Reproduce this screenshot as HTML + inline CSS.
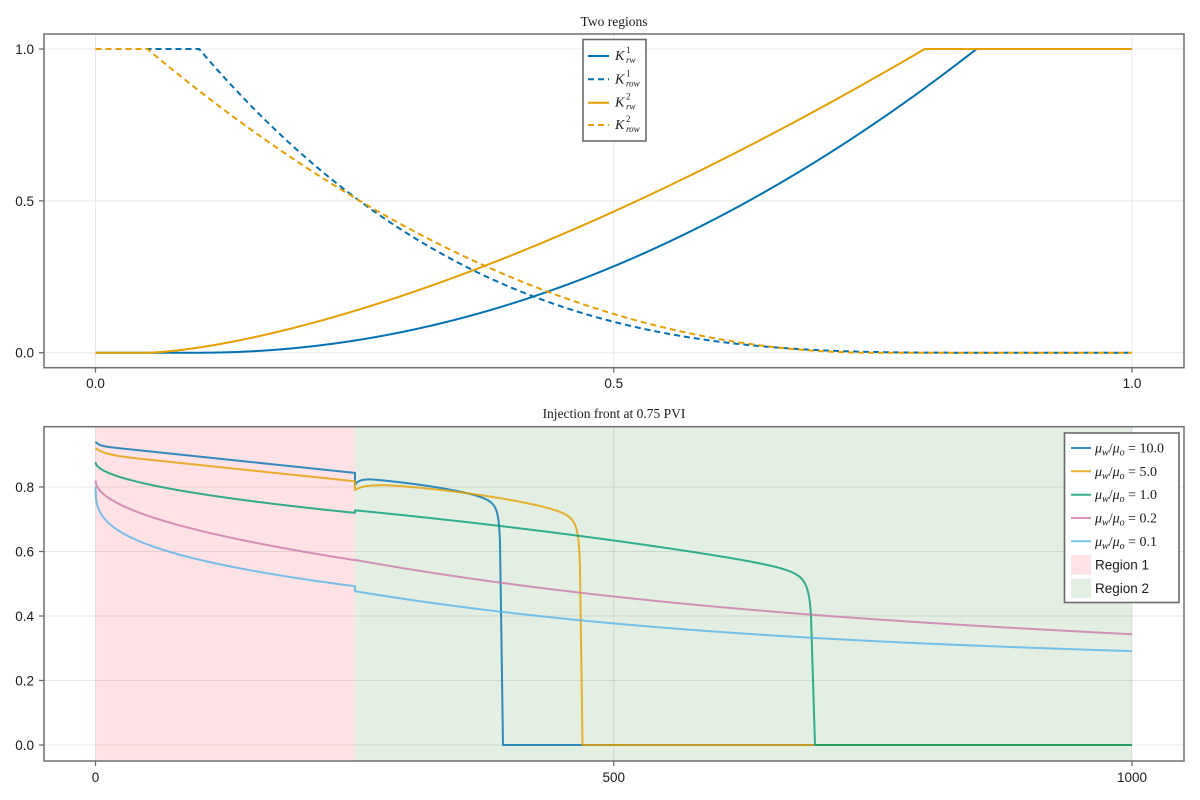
<!DOCTYPE html>
<html>
<head>
<meta charset="utf-8">
<style>
  html, body { margin:0; padding:0; background:#ffffff; }
  svg { display:block; }
  .tick { font-family:"Liberation Sans", sans-serif; font-size:13.5px; fill:#1a1a1a; }
  .title { font-family:"Liberation Serif", serif; font-size:13.5px; fill:#1a1a1a; }
  .math { font-family:"Liberation Serif", serif; font-size:14px; fill:#1a1a1a; }
  .leg { font-family:"Liberation Sans", sans-serif; font-size:13.5px; fill:#1a1a1a; }
</style>
</head>
<body>
<svg id="chart" width="1200" height="800" viewBox="0 0 1200 800" xmlns="http://www.w3.org/2000/svg">
  <rect x="0" y="0" width="1200" height="800" fill="#ffffff"/>
  <defs>
    <clipPath id="clipTop"><rect x="44" y="34" width="1140" height="333.7"/></clipPath>
    <clipPath id="clipBot"><rect x="44" y="426.7" width="1140" height="334.3"/></clipPath>
  </defs>

  <!-- ===== TOP PANEL ===== -->
  <text class="title" x="614" y="26" text-anchor="middle">Two regions</text>
  <g stroke="#e8e8e8" stroke-width="1">
    <line x1="95.5" y1="34" x2="95.5" y2="367.7"/>
    <line x1="613.75" y1="34" x2="613.75" y2="367.7"/>
    <line x1="1132" y1="34" x2="1132" y2="367.7"/>
    <line x1="44" y1="49" x2="1184" y2="49"/>
    <line x1="44" y1="200.85" x2="1184" y2="200.85"/>
    <line x1="44" y1="352.7" x2="1184" y2="352.7"/>
  </g>
  <g id="topCurves" clip-path="url(#clipTop)" fill="none" stroke-width="2"></g>
  <rect x="44" y="34" width="1140" height="333.7" fill="none" stroke="#6f6f6f" stroke-width="1.5"/>
  <g stroke="#6f6f6f" stroke-width="1.3">
    <line x1="39" y1="49" x2="44" y2="49"/>
    <line x1="39" y1="200.85" x2="44" y2="200.85"/>
    <line x1="39" y1="352.7" x2="44" y2="352.7"/>
    <line x1="95.5" y1="367.7" x2="95.5" y2="372.7"/>
    <line x1="613.75" y1="367.7" x2="613.75" y2="372.7"/>
    <line x1="1132" y1="367.7" x2="1132" y2="372.7"/>
  </g>
  <text class="tick" x="34" y="54" text-anchor="end">1.0</text>
  <text class="tick" x="34" y="205.8" text-anchor="end">0.5</text>
  <text class="tick" x="34" y="357.7" text-anchor="end">0.0</text>
  <text class="tick" x="95.5" y="388" text-anchor="middle">0.0</text>
  <text class="tick" x="613.75" y="388" text-anchor="middle">0.5</text>
  <text class="tick" x="1132" y="388" text-anchor="middle">1.0</text>

  <!-- top legend -->
  <rect x="583" y="39.5" width="63" height="101.5" fill="#ffffff" stroke="#6a6a6a" stroke-width="1.6"/>
  <line x1="588" y1="56" x2="609" y2="56" stroke="#0072B2" stroke-width="2"/>
  <line x1="588" y1="79.3" x2="609" y2="79.3" stroke="#0072B2" stroke-width="2" stroke-dasharray="6 4"/>
  <line x1="588" y1="102.7" x2="609" y2="102.7" stroke="#E69F00" stroke-width="2"/>
  <line x1="588" y1="125" x2="609" y2="125" stroke="#E69F00" stroke-width="2" stroke-dasharray="6 4"/>
  <g class="math">
    <text x="615" y="60" font-style="italic">K</text>
    <text x="626" y="53" font-size="9">1</text>
    <text x="626" y="63" font-size="9" font-style="italic">rw</text>

    <text x="615" y="83.3" font-style="italic">K</text>
    <text x="626" y="76.3" font-size="9">1</text>
    <text x="626" y="86.3" font-size="9" font-style="italic">row</text>

    <text x="615" y="106.7" font-style="italic">K</text>
    <text x="626" y="99.7" font-size="9">2</text>
    <text x="626" y="109.7" font-size="9" font-style="italic">rw</text>

    <text x="615" y="129" font-style="italic">K</text>
    <text x="626" y="122" font-size="9">2</text>
    <text x="626" y="132" font-size="9" font-style="italic">row</text>
  </g>

  <!-- ===== BOTTOM PANEL ===== -->
  <text class="title" x="614" y="418" text-anchor="middle">Injection front at 0.75 PVI</text>
  <rect x="95.5" y="426.7" width="259.5" height="334.3" fill="#ffe2e5"/>
  <rect x="355" y="426.7" width="777" height="334.3" fill="#e3efe3"/>
  <g stroke="rgba(0,0,0,0.09)" stroke-width="1">
    <line x1="95.5" y1="426.7" x2="95.5" y2="761"/>
    <line x1="613.75" y1="426.7" x2="613.75" y2="761"/>
    <line x1="1132" y1="426.7" x2="1132" y2="761"/>
    <line x1="44" y1="487" x2="1184" y2="487"/>
    <line x1="44" y1="551.5" x2="1184" y2="551.5"/>
    <line x1="44" y1="616" x2="1184" y2="616"/>
    <line x1="44" y1="680.5" x2="1184" y2="680.5"/>
    <line x1="44" y1="745" x2="1184" y2="745"/>
  </g>
  <g id="botCurves" clip-path="url(#clipBot)" fill="none" stroke-width="2" stroke-linejoin="round"></g>
  <rect x="44" y="426.7" width="1140" height="334.3" fill="none" stroke="#6f6f6f" stroke-width="1.5"/>
  <g stroke="#6f6f6f" stroke-width="1.3">
    <line x1="39" y1="487" x2="44" y2="487"/>
    <line x1="39" y1="551.5" x2="44" y2="551.5"/>
    <line x1="39" y1="616" x2="44" y2="616"/>
    <line x1="39" y1="680.5" x2="44" y2="680.5"/>
    <line x1="39" y1="745" x2="44" y2="745"/>
    <line x1="95.5" y1="761" x2="95.5" y2="766"/>
    <line x1="613.75" y1="761" x2="613.75" y2="766"/>
    <line x1="1132" y1="761" x2="1132" y2="766"/>
  </g>
  <text class="tick" x="34" y="492" text-anchor="end">0.8</text>
  <text class="tick" x="34" y="556.5" text-anchor="end">0.6</text>
  <text class="tick" x="34" y="621" text-anchor="end">0.4</text>
  <text class="tick" x="34" y="685.5" text-anchor="end">0.2</text>
  <text class="tick" x="34" y="750" text-anchor="end">0.0</text>
  <text class="tick" x="95.5" y="782" text-anchor="middle">0</text>
  <text class="tick" x="613.75" y="782" text-anchor="middle">500</text>
  <text class="tick" x="1132" y="782" text-anchor="middle">1000</text>

  <!-- bottom legend -->
  <rect x="1064.5" y="433" width="114.5" height="169.5" fill="#ffffff" stroke="#6a6a6a" stroke-width="1.6"/>
  <g stroke-width="2" stroke-opacity="0.8">
    <line x1="1071" y1="448" x2="1091" y2="448" stroke="#0072B2"/>
    <line x1="1071" y1="471.3" x2="1091" y2="471.3" stroke="#E69F00"/>
    <line x1="1071" y1="494.7" x2="1091" y2="494.7" stroke="#009E73"/>
    <line x1="1071" y1="518" x2="1091" y2="518" stroke="#CC79A7"/>
    <line x1="1071" y1="541.3" x2="1091" y2="541.3" stroke="#56B4E9"/>
  </g>
  <rect x="1071" y="555" width="20" height="19.5" fill="#ffe2e5"/>
  <rect x="1071" y="578.5" width="20" height="19.5" fill="#e3efe3"/>
  <g class="math">
    <text x="1095" y="452.5"><tspan font-style="italic">μ</tspan><tspan font-style="italic" font-size="10" dy="3">w</tspan><tspan dy="-3">/</tspan><tspan font-style="italic">μ</tspan><tspan font-style="italic" font-size="10" dy="3">o</tspan><tspan dy="-3"> = 10.0</tspan></text>
    <text x="1095" y="475.8"><tspan font-style="italic">μ</tspan><tspan font-style="italic" font-size="10" dy="3">w</tspan><tspan dy="-3">/</tspan><tspan font-style="italic">μ</tspan><tspan font-style="italic" font-size="10" dy="3">o</tspan><tspan dy="-3"> = 5.0</tspan></text>
    <text x="1095" y="499.2"><tspan font-style="italic">μ</tspan><tspan font-style="italic" font-size="10" dy="3">w</tspan><tspan dy="-3">/</tspan><tspan font-style="italic">μ</tspan><tspan font-style="italic" font-size="10" dy="3">o</tspan><tspan dy="-3"> = 1.0</tspan></text>
    <text x="1095" y="522.5"><tspan font-style="italic">μ</tspan><tspan font-style="italic" font-size="10" dy="3">w</tspan><tspan dy="-3">/</tspan><tspan font-style="italic">μ</tspan><tspan font-style="italic" font-size="10" dy="3">o</tspan><tspan dy="-3"> = 0.2</tspan></text>
    <text x="1095" y="545.8"><tspan font-style="italic">μ</tspan><tspan font-style="italic" font-size="10" dy="3">w</tspan><tspan dy="-3">/</tspan><tspan font-style="italic">μ</tspan><tspan font-style="italic" font-size="10" dy="3">o</tspan><tspan dy="-3"> = 0.1</tspan></text>
  </g>
  <text class="leg" x="1095" y="569.5">Region 1</text>
  <text class="leg" x="1095" y="593">Region 2</text>
</svg>

<script>
(function(){
  var NS = "http://www.w3.org/2000/svg";
  function mk(parent, d, stroke, extra){
    var p = document.createElementNS(NS, "path");
    p.setAttribute("d", d);
    p.setAttribute("stroke", stroke);
    p.setAttribute("fill", "none");
    if (extra) for (var k in extra) p.setAttribute(k, extra[k]);
    parent.appendChild(p);
  }
  function toD(pts){
    var s = "";
    for (var i=0;i<pts.length;i++){
      s += (i===0?"M":"L") + pts[i][0].toFixed(2) + "," + pts[i][1].toFixed(2);
    }
    return s;
  }

  // ---------- top panel ----------
  var top = document.getElementById("topCurves");
  function sx(s){ return 95.5 + s*1036.5; }
  function ky(k){ return 352.7 - k*303.7; }
  function krw1(s){ if (s<=0.1) return 0; if (s>=0.85) return 1; return Math.pow((s-0.1)/0.75, 2); }
  function krow1(s){ if (s<=0.1) return 1; if (s>=0.85) return 0; return Math.pow((0.85-s)/0.75, 3); }
  function krw2(s){ if (s<=0.05) return 0; if (s>=0.8) return 1; return Math.pow((s-0.05)/0.75, 1.5); }
  function krow2(s){ if (s<=0.05) return 1; if (s>=0.75) return 0; return Math.pow((0.75-s)/0.7, 2); }
  function tp(f){
    var pts=[];
    for (var i=0;i<=2000;i++){ var s=i/2000; pts.push([sx(s), ky(f(s))]); }
    return toD(pts);
  }
  mk(top, tp(krw1), "#0072B2");
  mk(top, tp(krow1), "#0072B2", {"stroke-dasharray":"6 4"});
  mk(top, tp(krw2), "#E69F00");
  mk(top, tp(krow2), "#E69F00", {"stroke-dasharray":"6 4"});

  // ---------- bottom panel ----------
  var bot = document.getElementById("botCurves");
  var X0=95.5, XB=355, XE=1132;
  function Y(v){ return 745 - 322.5*v; }
  function curve(r1, r2, xf, c, e, ramp){
    var pts=[], i, x, v;
    var n1 = Math.round((XB-X0)/0.5);
    for (i=0;i<=n1;i++){ x = X0 + i*0.5; pts.push([x, Y(r1(x-X0))]); }
    var lim = xf ? xf : XE;
    var n2 = Math.round((lim-XB)/0.5);
    for (i=0;i<=n2;i++){
      x = XB + i*0.5;
      v = r2(x);
      if (xf){ var d = xf - x; v *= (1 - c/(d+e)); }
      pts.push([x, Y(v)]);
    }
    if (xf){ pts.push([xf+ramp, Y(0)]); pts.push([XE, Y(0)]); }
    return toD(pts);
  }
  var op = {"stroke-opacity":"0.8"};

  // mu = 10
  mk(bot, curve(
    function(u){ return 0.94 - 0.012*(1-Math.exp(-u/4)) - 0.000325*u; },
    function(x){ var xx=Math.max(x,370); return 0.826 - 0.00025*(xx-370) - 0.0000015*(xx-370)*(xx-370) - 0.017*Math.exp(-(x-355)/4); },
    500, 0.3, 1.67, 3), "#0072B2", op);

  // mu = 5
  mk(bot, curve(
    function(u){ return 0.92 - 0.018*(1-Math.exp(-u/10)) - 0.000325*u; },
    function(x){ var xx=Math.max(x,385); return 0.808 - 0.0002*(xx-385) - 0.0000012*(xx-385)*(xx-385) - 0.016*Math.exp(-(x-355)/8); },
    580, 0.4, 1.67, 2.5), "#E69F00", op);

  // mu = 1
  mk(bot, curve(
    function(u){ return 0.877 - 0.00873*Math.pow(u,0.52); },
    function(x){ var t=x-355; return 0.729 - 0.0003*t - 0.00000022*t*t; },
    811, 0.8, 3, 4), "#009E73", op);

  // mu = 0.2
  mk(bot, curve(
    function(u){ return 0.82 - 0.0145*Math.pow(u,0.51); },
    function(x){ var t=x-355; return 0.574 - (0.104*(1-Math.exp(-t/300)) + 0.000173*t + 0.01*Math.sin(Math.PI*t/777)); },
    0, 0, 0, 0), "#CC79A7", op);

  // mu = 0.1
  mk(bot, curve(
    function(u){ return 0.80 - 0.0465*Math.pow(u,0.34); },
    function(x){ var t=x-355; return 0.477 - (0.1154*(1-Math.exp(-t/300)) + 0.000102*t + 0.008*Math.sin(Math.PI*t/777)); },
    0, 0, 0, 0), "#56B4E9", op);
})();
</script>
</body>
</html>
